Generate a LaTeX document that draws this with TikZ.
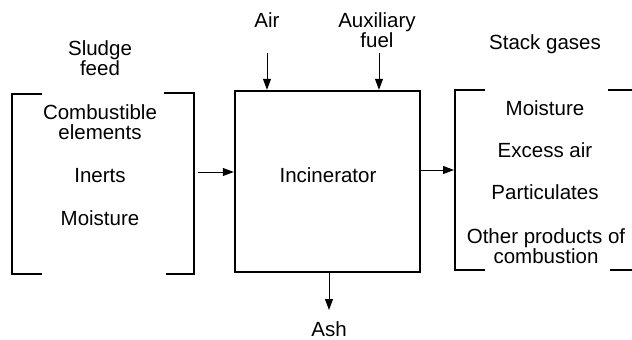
\documentclass[tikz,border=0pt]{standalone}
\usepackage{fontspec}
\setmainfont{Liberation Sans}
\usetikzlibrary{arrows.meta}
\begin{document}
\begin{tikzpicture}[x=1pt,y=-1pt,
  lbl/.style={font=\fontsize{20.5}{20}\selectfont, align=center, inner sep=0pt},
  bracketline/.style={line width=2.3pt},
  boxstyle/.style={draw, line width=2.4pt, minimum width=185pt, minimum height=181pt, inner sep=0pt},
  flow/.style={line width=1pt,-{Triangle[length=11pt,width=8pt]}}]
\useasboundingbox (0,0) rectangle (632,340);
% incinerator
\node[boxstyle] (inc) at (327.5,181.5) {};
\node[lbl] (inctext) at (328,175) {Incinerator};
% top inputs
\node[lbl] (air) at (267,20) {Air};
\coordinate (airin) at (267,53);
\draw[flow] (airin) -- (airin |- inc.north);
\node[lbl] (aux) at (377,30) {Auxiliary\\fuel};
\coordinate (auxin) at (379,53);
\draw[flow] (auxin) -- (auxin |- inc.north);
% ash
\coordinate (ashend) at (329,310);
\node[lbl] (ash) at (329,329) {Ash};
\draw[flow] (ashend |- inc.south) -- (ashend);
% left bracket (sludge feed)
\node[lbl] (sludge) at (100,58) {Sludge\\feed};
\draw[bracketline] (42,94) -- (12,94) -- (12,274) -- (42,274);
\draw[bracketline] (164,93) -- (194,93) -- (194,274) -- (166,274);
\node[lbl] (comb) at (100,122) {Combustible\\elements};
\node[lbl] (inerts) at (100,176) {Inerts};
\node[lbl] (moistL) at (100,218) {Moisture};
\coordinate (lout) at (198,172);
\draw[flow] (lout) -- (lout -| inc.west);
% right bracket (stack gases)
\node[lbl] (stack) at (545,44) {Stack gases};
\coordinate (rin) at (454,170);
\draw[flow] (rin -| inc.east) -- (rin);
\draw[bracketline] (485,90) -- (455,90) -- (455,270) -- (485,270);
\draw[bracketline] (608,90) -- (632,90);
\draw[bracketline] (610,270) -- (632,270);
\node[lbl] (moistR) at (545,108) {Moisture};
\node[lbl] (excess) at (545,150) {Excess air};
\node[lbl] (part) at (545,192) {Particulates};
\node[lbl] (other) at (546,246) {Other products of\\combustion};
\end{tikzpicture}
\end{document}
